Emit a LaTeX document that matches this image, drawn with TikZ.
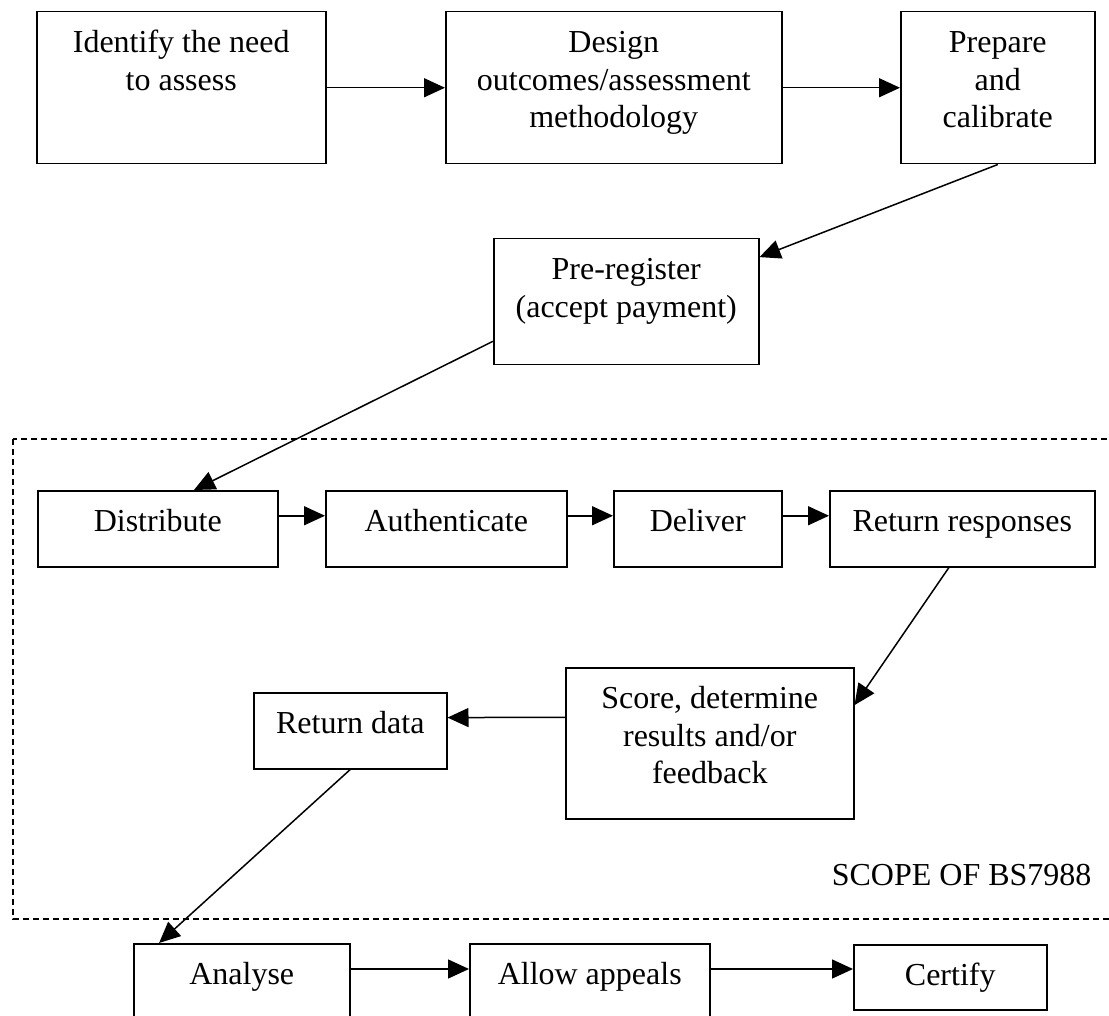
\documentclass[tikz,border=0pt]{standalone}
\usepackage{fontspec}
\setmainfont{Liberation Serif}
\usetikzlibrary{arrows.meta,calc}

\begin{document}
\begin{tikzpicture}[
  x=1pt, y=-1pt,
  every node/.style = {font=\fontsize{32}{37.5}\selectfont},
  box/.style = {draw, line width=1.5pt, align=flush center, anchor=north west,
    inner xsep=0pt, inner ysep=4pt, text height=37pt},
  flow/.style = {line width=1.5pt, -{Triangle[length=21pt,width=19pt]}},
  scopeline/.style = {line width=1.5pt, dash pattern=on 6pt off 4pt}
  ]
  \useasboundingbox (0,0) rectangle (1109,1016);
  \clip (0,0) rectangle (1109,1016);
  % before the scope
  \node[box, text width=289pt, text depth=107pt] (identify) at (36,11) {Identify the need\\to assess};
  \node[box, text width=336pt, text depth=107pt] (design) at (445,11) {Design\\outcomes/assessment\\methodology};
  \node[box, text width=194pt, text depth=107pt] (prepare) at (900,11) {Prepare\\and\\calibrate};
  \node[box, text width=265pt, text depth=81pt] (prereg) at (493,238) {Pre-register\\(accept payment)};
  % scope of BS7988
  \draw[scopeline] (13,439) rectangle (1140,919);
  \node[anchor=base east] (bslabel) at (1095,885) {SCOPE OF BS7988};
  \node[box, text width=240pt, text depth=31pt] (distribute) at (37,490) {Distribute};
  \node[box, text width=241pt, text depth=31pt] (authenticate) at (325,490) {Authenticate};
  \node[box, text width=168pt, text depth=31pt] (deliver) at (613,490) {Deliver};
  \node[box, text width=265pt, text depth=31pt] (responses) at (829,490) {Return responses};
  \node[box, text width=288pt, text depth=106pt] (score) at (565,667) {Score, determine\\results and/or\\feedback};
  \node[box, text width=193pt, text depth=31pt] (retdata) at (253,692) {Return data};
  % after the scope
  \node[box, text width=216pt, text depth=60pt] (analyse) at (133,943) {Analyse};
  \node[box, text width=240pt, text depth=60pt] (appeals) at (469,943) {Allow appeals};
  \node[box, text width=193pt, text depth=20pt] (certify) at (853,944) {Certify};

  \draw[flow] (identify) -- (design);
  \draw[flow] (design) -- (prepare);
  \draw[flow] (prepare.south) -- ($(prereg.north east)!0.15!(prereg.south east)$);
  \draw[flow] ($(prereg.north west)!0.81!(prereg.south west)$) -- ($(distribute.north west)!0.65!(distribute.north east)$);
  \draw[flow] ([yshift=13pt]distribute.east) -- ([yshift=13pt]authenticate.west);
  \draw[flow] ([yshift=13pt]authenticate.east) -- ([yshift=13pt]deliver.west);
  \draw[flow] ([yshift=13pt]deliver.east) -- ([yshift=13pt]responses.west);
  \draw[flow] ($(responses.south west)!0.45!(responses.south east)$) -- ($(score.north east)!0.25!(score.south east)$);
  \draw[flow] ($(score.north west)!0.33!(score.south west)$) -- ($(retdata.north east)!0.33!(retdata.south east)$);
  \draw[flow] (retdata.south) -- ($(analyse.north west)!0.12!(analyse.north east)$);
  \draw[flow] ([yshift=-26pt]analyse.north east) -- ([yshift=-26pt]appeals.north west);
  \draw[flow] ([yshift=-26pt]appeals.north east) -- ([yshift=-25pt]certify.north west);
\end{tikzpicture}
\end{document}
